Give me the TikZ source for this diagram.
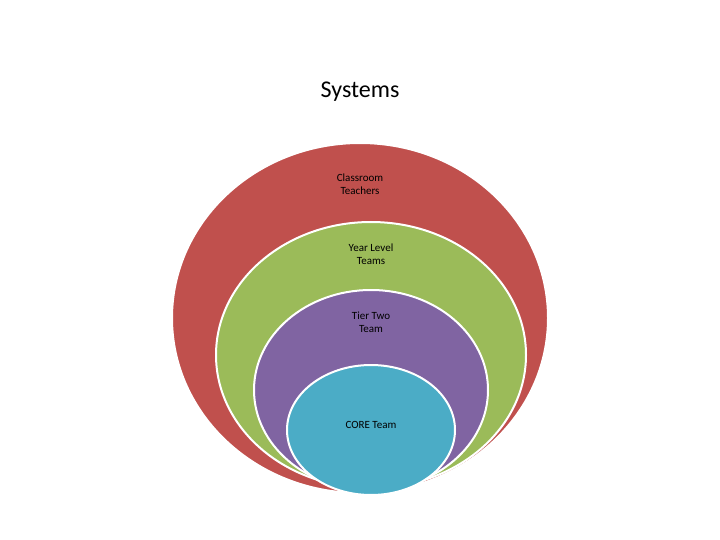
\documentclass[tikz,border=0pt]{standalone}
\usepackage{fontspec}
\setmainfont{Carlito}
\definecolor{cred}{HTML}{C0504D}
\definecolor{cgreen}{HTML}{9BBB59}
\definecolor{cpurple}{HTML}{8064A2}
\definecolor{cblue}{HTML}{4BACC6}
\begin{document}
\begin{tikzpicture}[x=1pt,y=-1pt,
  ring/.style={draw=white,line width=2pt},
  lbl/.style={font=\fontsize{11}{13}\selectfont,align=center,text=black}]
\useasboundingbox (0,0) rectangle (720,540);
\node[font=\fontsize{24}{28}\selectfont] (title) at (360,92) {Systems};
\fill[ring,fill=cred] (360,318) ellipse [x radius=188,y radius=175];
\fill[ring,fill=cgreen] (371,355) ellipse [x radius=155,y radius=133];
\fill[ring,fill=cpurple] (371,390) ellipse [x radius=117,y radius=100];
\fill[ring,fill=cblue] (371,430) ellipse [x radius=84,y radius=65];
\node[lbl] (a) at (360,184) {Classroom\\Teachers};
\node[lbl] (b) at (371,254) {Year Level\\Teams};
\node[lbl] (c) at (371,322) {Tier Two\\Team};
\node[lbl] (d) at (371,425) {CORE Team};
\end{tikzpicture}
\end{document}
